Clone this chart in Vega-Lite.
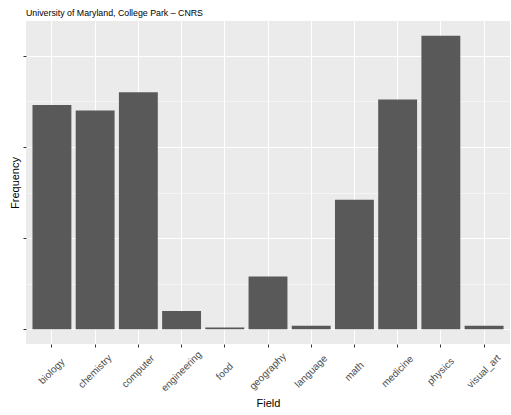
{
  "$schema": "https://vega.github.io/schema/vega-lite/v6.json",
  "width": 484,
  "height": 323,
  "autosize": {"type": "none"},
  "padding": {"left": 26, "top": 21, "right": 1, "bottom": 71},
  "background": "white",
  "title": {
    "text": "University of Maryland, College Park – CNRS",
    "anchor": "start",
    "frame": "group",
    "fontSize": 8.8,
    "font": "Liberation Sans",
    "fontWeight": "normal",
    "color": "black",
    "offset": 3
  },
  "data": {
    "values": [
      {"Field": "biology", "Frequency": 123},
      {"Field": "chemistry", "Frequency": 120},
      {"Field": "computer", "Frequency": 130},
      {"Field": "engineering", "Frequency": 10},
      {"Field": "food", "Frequency": 1},
      {"Field": "geography", "Frequency": 29},
      {"Field": "language", "Frequency": 2},
      {"Field": "math", "Frequency": 71},
      {"Field": "medicine", "Frequency": 126},
      {"Field": "physics", "Frequency": 161},
      {"Field": "visual_art", "Frequency": 2}
    ]
  },
  "mark": {"type": "bar", "color": "#595959"},
  "encoding": {
    "x": {
      "field": "Field",
      "type": "nominal",
      "sort": null,
      "scale": {"paddingInner": 0.1, "paddingOuter": 0.15},
      "axis": {
        "title": "Field",
        "bandPosition": 0.5,
        "labelAngle": -45,
        "labelAlign": "center",
        "labelBaseline": "middle",
        "labelPadding": 24,
        "labelFontSize": 10,
        "labelColor": "#4D4D4D",
        "labelOverlap": false,
        "labelFlush": false,
        "titlePadding": 4
      }
    },
    "y": {
      "field": "Frequency",
      "type": "quantitative",
      "scale": {"domain": [-8.05, 169.05], "nice": false, "zero": false},
      "axis": {
        "title": "Frequency",
        "labels": false,
        "values": [0, 25, 50, 75, 100, 125, 150],
        "tickOpacity": {"condition": {"test": "datum.value % 50 === 0", "value": 1}, "value": 0},
        "gridWidth": {"condition": {"test": "datum.value % 50 === 0", "value": 1.07}, "value": 0.53},
        "titlePadding": 2
      }
    },
    "y2": {"datum": 0}
  },
  "config": {
    "view": {"fill": "#EBEBEB", "stroke": null},
    "font": "Liberation Sans",
    "axis": {
      "domain": false,
      "grid": true,
      "gridColor": "#FFFFFF",
      "gridWidth": 1.07,
      "tickColor": "#333333",
      "tickSize": 3,
      "tickWidth": 1,
      "labelFont": "Liberation Sans",
      "titleFont": "Liberation Sans",
      "titleFontSize": 11,
      "titleFontWeight": "normal",
      "titleColor": "black"
    }
  }
}
